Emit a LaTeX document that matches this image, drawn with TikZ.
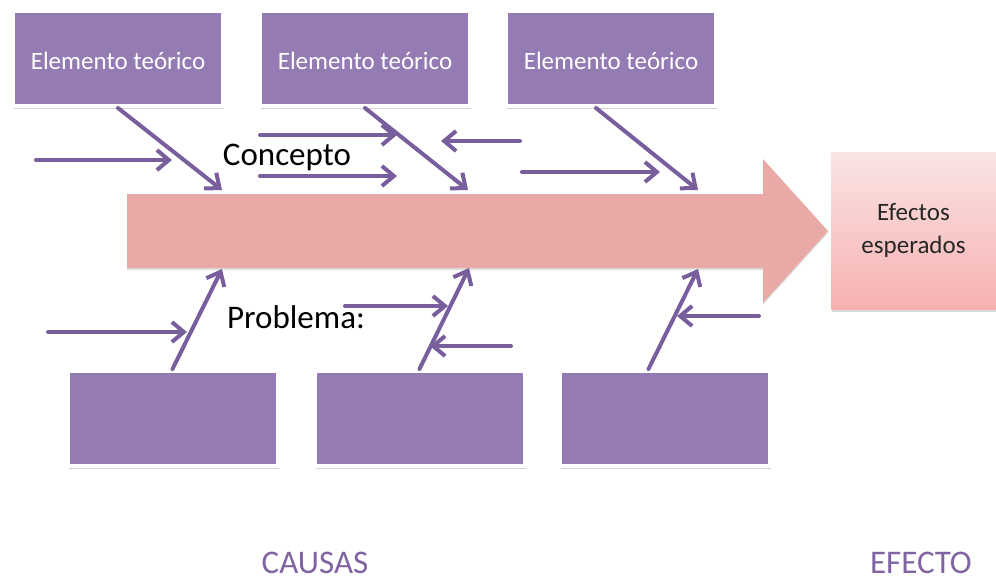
\documentclass[tikz,border=0pt]{standalone}
\usepackage{fontspec}
\setmainfont{Carlito}
\usetikzlibrary{arrows.meta, positioning, shadows}
\definecolor{boxpurple}{RGB}{148,123,179}
\definecolor{ribpurple}{RGB}{121,94,158}
\definecolor{spinepink}{RGB}{232,169,167}
\definecolor{effecttop}{RGB}{251,229,229}
\definecolor{effectbot}{RGB}{246,176,176}
\definecolor{labelpurple}{RGB}{128,100,162}

\begin{document}
\begin{tikzpicture}[
    x=1pt, y=-1pt,
    every node/.style={font=\fontsize{25}{33}\selectfont},
    cause/.style={rectangle, draw=white, line width=4pt, fill=boxpurple, text=white, text height=23pt, minimum width=210pt, minimum height=95pt, drop shadow={shadow xshift=1pt, shadow yshift=-3pt, opacity=0.35}},
    effect/.style={rectangle, top color=effecttop, bottom color=effectbot, minimum width=165pt, minimum height=157pt, align=center, text=black!85, drop shadow={shadow xshift=1pt, shadow yshift=-3pt, opacity=0.3}},
    rib/.style={ribpurple, line width=4pt, line cap=round, -{Straight Barb[length=12pt, width=20pt]}},
    big/.style={font=\fontsize{33}{40}\selectfont, anchor=base},
    side/.style={big, text=labelpurple, inner sep=0pt}
]
\useasboundingbox (0,0) rectangle (996,582);

% spine
\fill[spinepink, drop shadow={shadow xshift=0pt, shadow yshift=-2pt, opacity=0.25}]
    (127,194) -- (763,194) -- (763,159) -- (828,231) -- (763,303) -- (763,268) -- (127,268) -- cycle;
\coordinate (up1) at (222,190);
\coordinate (up2) at (468,190);
\coordinate (up3) at (698,190);
\coordinate (lo1) at (222,269);
\coordinate (lo2) at (469,268);
\coordinate (lo3) at (698,269);

% theory boxes
\node[cause] (et1) at (118,58.5) {Elemento teórico};
\node[cause, right=33pt of et1] (et2) {Elemento teórico};
\node[cause, right=32pt of et2] (et3) {Elemento teórico};

% problem boxes
\node[cause] (pb1) at (172.5,418.5) {};
\node[cause, right=33pt of pb1] (pb2) {};
\node[cause, right=31pt of pb2] (pb3) {};

\node[effect] (ef) at (913.5,230.5) {Efectos\\esperados};

\node[big] (concept) at (287,165) {Concepto};
\node[big] (problem) at (296,328) {Problema:};
\node[side] (causes) at (315,573) {CAUSAS};
\node[side] (effects) at (921,573) {EFECTO};

% main ribs
\draw[rib] (et1.south) -- (up1);
\draw[rib] (et2.south) -- (up2);
\draw[rib] ([xshift=-15pt]et3.south) -- (up3);
\draw[rib] (pb1.north) -- (lo1);
\draw[rib] (pb2.north) -- (lo2);
\draw[rib] ([xshift=-16pt]pb3.north) -- (lo3);

% small ribs
\coordinate (a0) at (36,160);  \coordinate (a1) at (172,160);
\coordinate (b0) at (260,135); \coordinate (b1) at (397,135);
\coordinate (c0) at (260,176); \coordinate (c1) at (397,176);
\coordinate (d0) at (520,141); \coordinate (d1) at (441,141);
\coordinate (e0) at (522,172); \coordinate (e1) at (660,172);
\coordinate (f0) at (48,332);  \coordinate (f1) at (187,332);
\coordinate (g0) at (345,306); \coordinate (g1) at (448,306);
\coordinate (h0) at (511,346); \coordinate (h1) at (430,346);
\coordinate (i0) at (759,316); \coordinate (i1) at (677,316);
\draw[rib] (a0) -- (a1);
\draw[rib] (b0) -- (b1);
\draw[rib] (c0) -- (c1);
\draw[rib] (d0) -- (d1);
\draw[rib] (e0) -- (e1);
\draw[rib] (f0) -- (f1);
\draw[rib] (g0) -- (g1);
\draw[rib] (h0) -- (h1);
\draw[rib] (i0) -- (i1);

\end{tikzpicture}
\end{document}
